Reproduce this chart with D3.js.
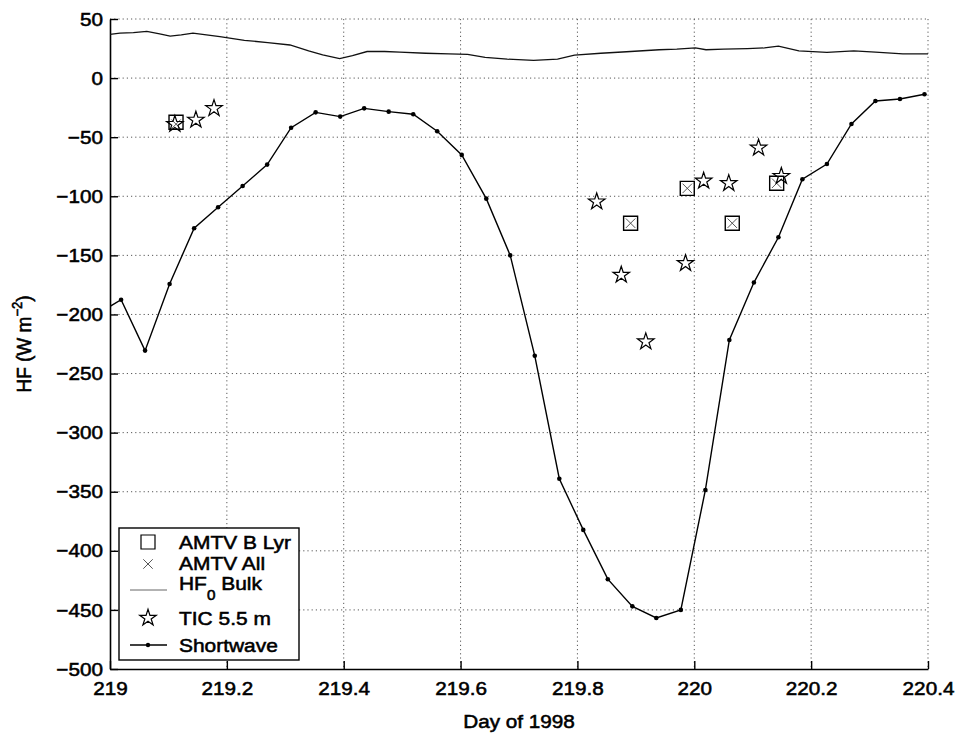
<!DOCTYPE html>
<html>
<head>
<meta charset="utf-8">
<script src="https://cdn.jsdelivr.net/npm/d3@7"></script>
<style>
  html, body { margin: 0; padding: 0; background: #fff; }
  svg { display: block; }
  text { font-family: "Liberation Sans", Arial, Helvetica, sans-serif; fill: #000; }
</style>
</head>
<body>
<svg id="chart" width="958" height="737"></svg>
<script>
// Bulk heat flux HF0 (W m^-2)
const bulkDay = [219.000, 219.017, 219.040, 219.063, 219.085, 219.103, 219.122, 219.142, 219.165, 219.188,
                 219.230, 219.270, 219.308, 219.340, 219.364, 219.393, 219.415, 219.440, 219.470, 219.496,
                 219.540, 219.580, 219.612, 219.642, 219.680, 219.725, 219.766, 219.795, 219.840, 219.884,
                 219.940, 219.970, 220.002, 220.020, 220.050, 220.091, 220.120, 220.144, 220.179, 220.227,
                 220.273, 220.310, 220.357, 220.400];
const bulkHF  = [37, 38, 38.5, 39.5, 37.5, 35.5, 36.5, 38, 36.5, 35,
                 32, 30, 28, 23, 19.6, 16.5, 19, 22.5, 22.5, 22,
                 21, 20.5, 20, 17.5, 16, 15, 16, 19.5, 21, 22.3,
                 24, 24.5, 25.5, 24, 24.5, 25, 25.5, 27, 23, 21.7,
                 23, 22, 20.5, 20.5];

// Hourly shortwave flux (W m^-2)
const swDay = [218.977, 219.019, 219.060, 219.102, 219.144, 219.185, 219.227, 219.269, 219.310, 219.352,
               219.394, 219.435, 219.477, 219.519, 219.560, 219.602, 219.644, 219.685, 219.727, 219.769,
               219.810, 219.852, 219.894, 219.935, 219.977, 220.019, 220.060, 220.102, 220.144, 220.185,
               220.227, 220.269, 220.310, 220.352, 220.394];
const swHF  = [-200, -187.5, -230.6, -174.2, -127, -109.3, -91.3, -73.2, -42, -29,
               -32.6, -25.6, -28.4, -30.6, -45, -65, -102, -150, -235, -339,
               -382.3, -424, -447, -456.8, -450, -348.5, -221.6, -173, -134.7, -85.6,
               -72.7, -38.8, -19.4, -17.7, -13.7];

// TIC at 5.5 m
const ticDay = [219.111, 219.147, 219.178, 219.833, 219.875, 219.917, 219.985, 220.016, 220.059, 220.110, 220.149];
const ticHF  = [-39, -35.4, -25.6, -104.6, -166.6, -223, -156.7, -87, -89, -59, -83];

// AMTV boundary layer and all-layer estimates
const amtvBDay = [219.113, 219.891, 219.988, 220.065, 220.141];
const amtvBHF  = [-37.4, -122.8, -93.3, -122.8, -89];
const amtvAllDay = [219.113, 219.891, 219.988, 220.065, 220.141];
const amtvAllHF  = [-39, -122.8, -93.3, -122.8, -89];

const xTicks = [219, 219.2, 219.4, 219.6, 219.8, 220, 220.2, 220.4];
const yTicks = [50, 0, -50, -100, -150, -200, -250, -300, -350, -400, -450, -500];

const legendItems = ["AMTV B Lyr", "AMTV All", "HF", "TIC 5.5 m", "Shortwave"];

const svg = d3.select("#chart");
const pLeft = 110, pRight = 928, pTop = 19, pBottom = 669;
const SX = 1.09; // horizontal glyph stretch
const TW = 0.55; // text outline weight

const x = d3.scaleLinear().domain([219, 220.4]).range([pLeft, pRight]);
const y = d3.scaleLinear().domain([-500, 50]).range([pBottom, pTop]);

svg.append("rect").attr("width", 958).attr("height", 737).attr("fill", "#fff");

svg.append("defs").append("clipPath").attr("id", "plotclip")
  .append("rect").attr("x", pLeft).attr("y", pTop).attr("width", pRight - pLeft).attr("height", pBottom - pTop);

// dotted grid
const grid = svg.append("g").attr("stroke", "#222").attr("stroke-width", 1)
  .attr("stroke-dasharray", "1.2,3").attr("opacity", 0.75);
grid.selectAll("line.v").data(xTicks.slice(1)).join("line").attr("class", "v")
  .attr("x1", d => x(d)).attr("x2", d => x(d)).attr("y1", pTop).attr("y2", pBottom);
grid.selectAll("line.h").data(yTicks.slice(0, -1)).join("line").attr("class", "h")
  .attr("x1", pLeft).attr("x2", pRight).attr("y1", d => y(d)).attr("y2", d => y(d));

// axes with inward ticks
const xAxis = svg.append("g").attr("transform", `translate(0,${pBottom})`)
  .call(d3.axisBottom(x).tickValues(xTicks).tickSizeInner(-8).tickSizeOuter(0).tickPadding(12.5)
    .tickFormat(d3.format("")));
const yAxis = svg.append("g").attr("transform", `translate(${pLeft},0)`)
  .call(d3.axisLeft(y).tickValues(yTicks).tickSizeInner(-8).tickSizeOuter(0).tickPadding(6.5));
[xAxis, yAxis].forEach(a => {
  a.select(".domain").attr("stroke", "#000").attr("stroke-width", 1.6);
  a.selectAll(".tick line").attr("stroke", "#000").attr("stroke-width", 1.4);
  a.selectAll("text").attr("font-size", 19).attr("font-family", "Liberation Sans, Arial, sans-serif")
    .attr("fill", "#000").attr("stroke", "#000").attr("stroke-width", TW)
    .attr("transform", `scale(${SX},1)`);
});

// plot contents
const plot = svg.append("g").attr("clip-path", "url(#plotclip)");

const bulkLine = d3.line().x((d, i) => x(bulkDay[i])).y(d => y(d));
plot.append("path").attr("d", bulkLine(bulkHF))
  .attr("fill", "none").attr("stroke", "#111").attr("stroke-width", 1.3);

const swLine = d3.line().x((d, i) => x(swDay[i])).y(d => y(d));
plot.append("path").attr("d", swLine(swHF))
  .attr("fill", "none").attr("stroke", "#000").attr("stroke-width", 1.4);
plot.selectAll("circle.sw").data(swHF).join("circle").attr("class", "sw")
  .attr("cx", (d, i) => x(swDay[i])).attr("cy", d => y(d)).attr("r", 2.3).attr("fill", "#000");

const squareSym = d3.symbol(d3.symbolSquare, 196);
const starSym = d3.symbol(d3.symbolStar, 85);
const crossSym = d3.symbol(d3.symbolTimes, 60);

plot.selectAll("path.sq").data(amtvBHF).join("path").attr("class", "sq")
  .attr("d", squareSym()).attr("transform", (d, i) => `translate(${x(amtvBDay[i])},${y(d)})`)
  .attr("fill", "none").attr("stroke", "#000").attr("stroke-width", 1.4);
plot.selectAll("path.x").data(amtvAllHF).join("path").attr("class", "x")
  .attr("d", crossSym()).attr("transform", (d, i) => `translate(${x(amtvAllDay[i])},${y(d)})`)
  .attr("fill", "none").attr("stroke", "#444").attr("stroke-width", 0.9);
plot.selectAll("path.st").data(ticHF).join("path").attr("class", "st")
  .attr("d", starSym()).attr("transform", (d, i) => `translate(${x(ticDay[i])},${y(d)})`)
  .attr("fill", "none").attr("stroke", "#000").attr("stroke-width", 1.2);

// axis titles
const txt = (g, s, tx, ty, size, anchor) => g.append("text")
  .attr("transform", `translate(${tx},${ty}) scale(${SX},1)`)
  .attr("font-size", size).attr("text-anchor", anchor || "start")
  .attr("stroke", "#000").attr("stroke-width", TW).text(s);

txt(svg, "Day of 1998", (pLeft + pRight) / 2, 728, 19, "middle");

const yl = svg.append("text")
  .attr("transform", `translate(31,${(pTop + pBottom) / 2}) scale(${SX},1) rotate(-90)`)
  .attr("font-size", 19).attr("text-anchor", "middle").attr("stroke", "#000").attr("stroke-width", TW);
yl.append("tspan").text("HF (W m");
yl.append("tspan").attr("font-size", 13).attr("dy", -8).text("−2");
yl.append("tspan").attr("dy", 8).text(")");

// legend
const LF = 19.2;
const lg = svg.append("g");
const lgLeft = 119, lgTop = 528, lgRight = 299, lgBottom = 660;
lg.append("rect").attr("x", lgLeft).attr("y", lgTop).attr("width", lgRight - lgLeft).attr("height", lgBottom - lgTop)
  .attr("fill", "#fff").attr("stroke", "#000").attr("stroke-width", 1.4);
const symX = 148, textX = 179;
const rowY = [542, 564, 584, 618, 645];       // symbol centre lines
const baseY = [549, 570, 590, 625, 652];      // text baselines

lg.append("path").attr("d", squareSym()).attr("transform", `translate(${symX},${rowY[0]})`)
  .attr("fill", "none").attr("stroke", "#000").attr("stroke-width", 1.2);
lg.append("path").attr("d", crossSym()).attr("transform", `translate(${symX},${rowY[1]})`)
  .attr("fill", "none").attr("stroke", "#444").attr("stroke-width", 0.9);
lg.append("line").attr("x1", 130).attr("x2", 167).attr("y1", baseY[2]).attr("y2", baseY[2])
  .attr("stroke", "#666").attr("stroke-width", 1);
lg.append("path").attr("d", starSym()).attr("transform", `translate(${symX},${rowY[3]})`)
  .attr("fill", "none").attr("stroke", "#000").attr("stroke-width", 1.2);
lg.append("line").attr("x1", 130).attr("x2", 167).attr("y1", rowY[4]).attr("y2", rowY[4])
  .attr("stroke", "#000").attr("stroke-width", 1.4);
lg.append("circle").attr("cx", symX).attr("cy", rowY[4]).attr("r", 2.2).attr("fill", "#000");

txt(lg, legendItems[0], textX, baseY[0], LF);
txt(lg, legendItems[1], textX, baseY[1], LF);
const hf = lg.append("text").attr("transform", `translate(${textX},${baseY[2]}) scale(${SX},1)`)
  .attr("font-size", LF).attr("stroke", "#000").attr("stroke-width", TW);
hf.append("tspan").text(legendItems[2]);
hf.append("tspan").attr("font-size", 14).attr("dy", 10).text("0");
hf.append("tspan").attr("dy", -10).text(" Bulk");
txt(lg, legendItems[3], textX, baseY[3], LF);
txt(lg, legendItems[4], textX, baseY[4], LF);
</script>
</body>
</html>
